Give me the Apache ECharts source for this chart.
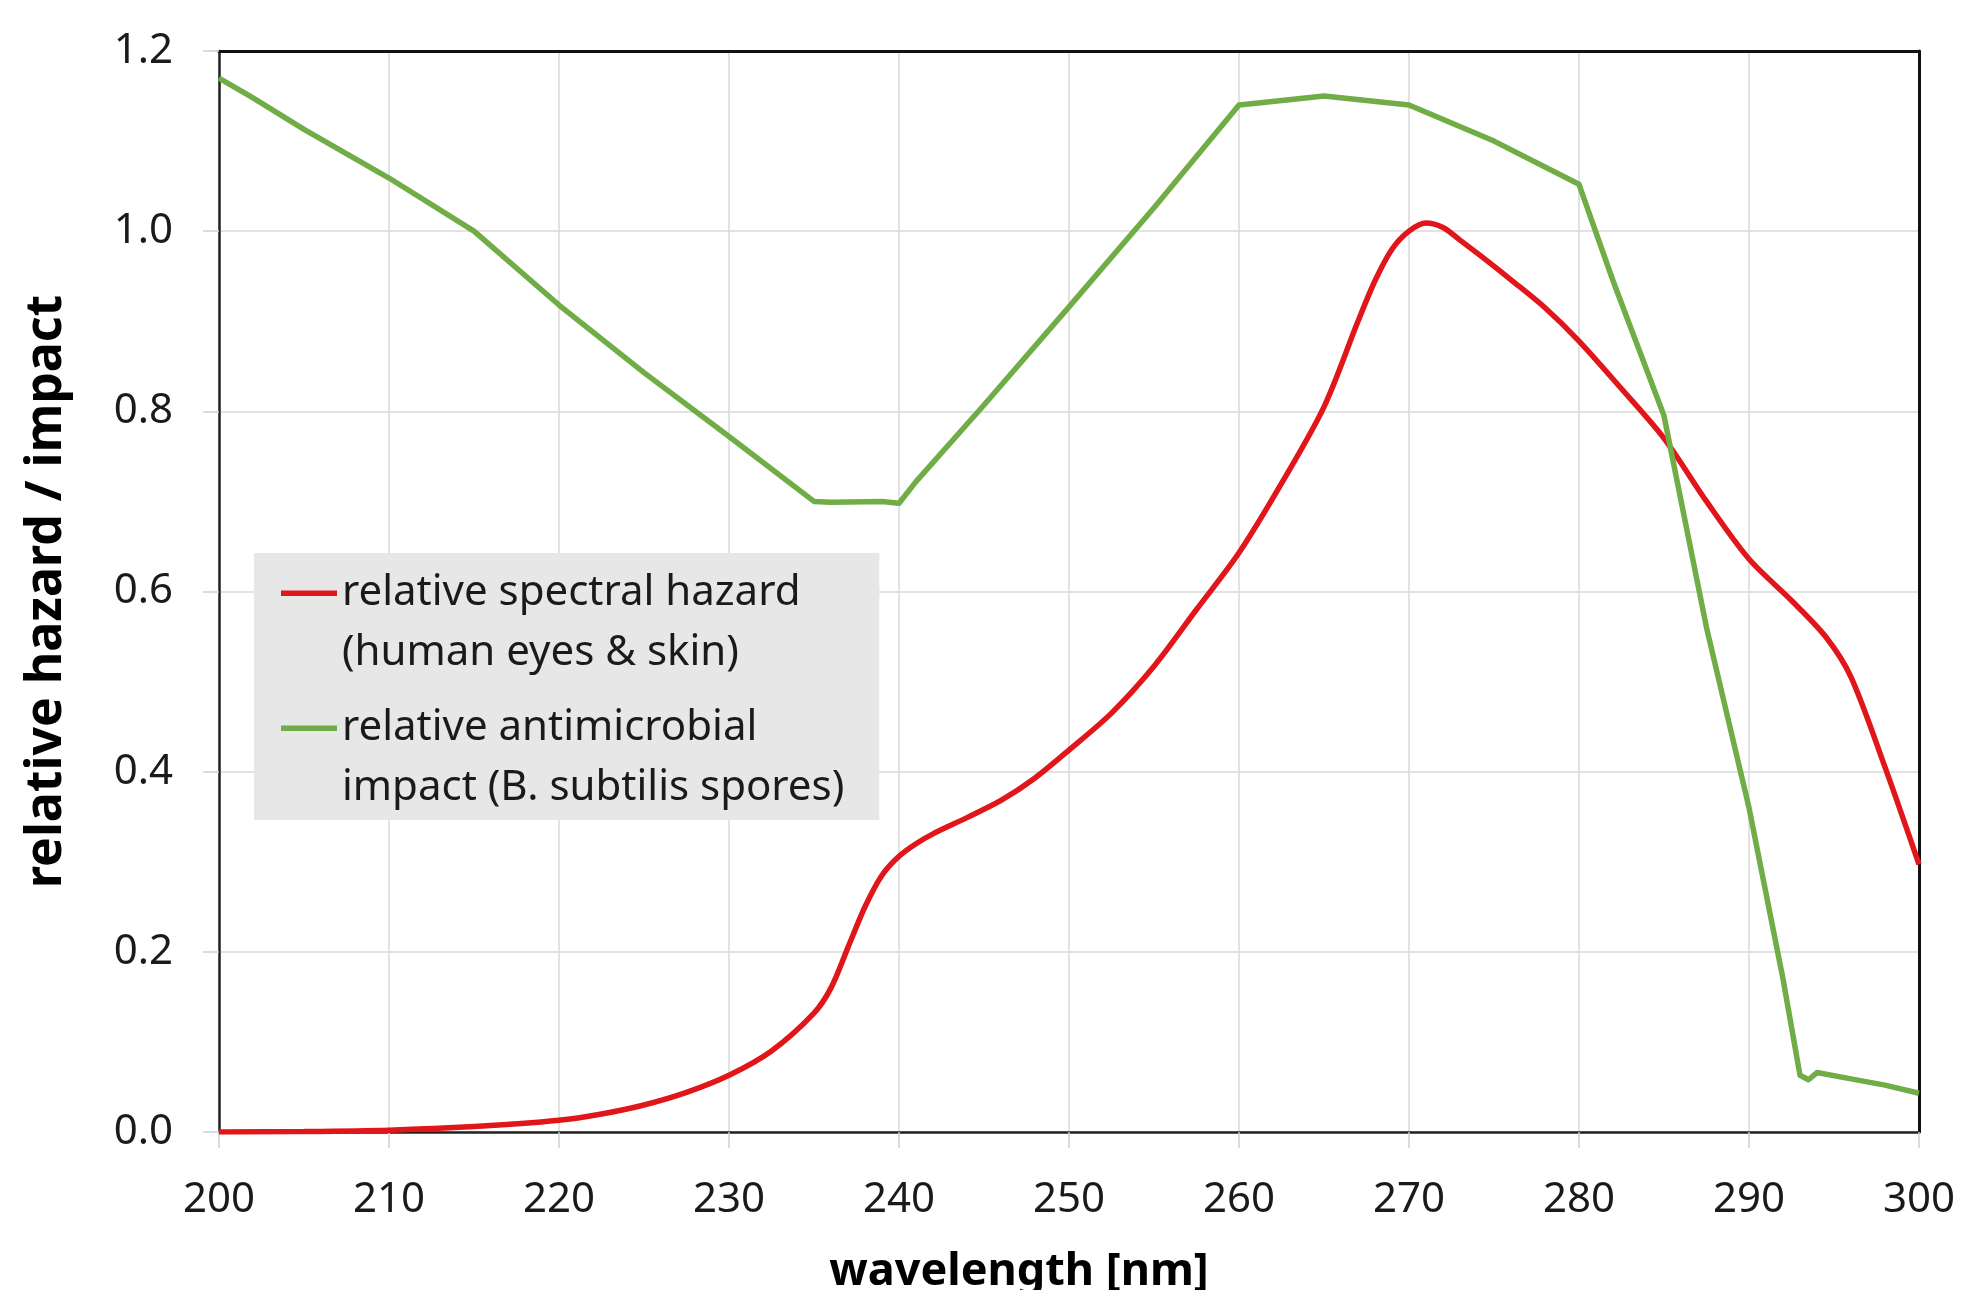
<!DOCTYPE html>
<html>
<head>
<meta charset="utf-8">
<script src="https://cdn.jsdelivr.net/npm/echarts@6.0.0/dist/echarts.min.js"></script>
<style>
  html, body { margin: 0; padding: 0; background: #fff; }
  #main { width: 1961px; height: 1290px; }
</style>
</head>
<body>
<div id="main"></div>
<script>
var dom = document.getElementById("main");
var chart = echarts.init(dom);

// wavelength [nm], relative value
var hazardX = [200, 205, 210, 215, 220, 222.5, 225, 227.5, 230, 232.5, 235, 236, 237, 238, 239, 240, 241, 242, 244, 246, 248, 250, 252.5, 255, 257.5, 260, 262.5, 265, 267, 268, 269, 270, 271, 272, 273, 274.6, 276, 278, 280, 282.5, 285, 287.5, 290, 292.5, 294.5, 296, 298, 300];
var hazardY = [0.0, 0.0005, 0.002, 0.006, 0.013, 0.02, 0.030, 0.044, 0.063, 0.09, 0.132, 0.16, 0.205, 0.25, 0.285, 0.306, 0.32, 0.331, 0.349, 0.368, 0.393, 0.424, 0.465, 0.517, 0.58, 0.643, 0.72, 0.805, 0.90, 0.945, 0.98, 1.0, 1.009, 1.004, 0.99, 0.967, 0.946, 0.915, 0.878, 0.825, 0.77, 0.70, 0.636, 0.59, 0.55, 0.505, 0.405, 0.297];

var impactX = [200, 202, 205, 210, 215, 220, 225, 230, 235, 236, 239, 240, 241, 245, 250, 255, 260, 261, 265, 270, 275, 280, 282, 283.5, 285, 287.5, 290, 292, 293, 293.5, 294, 296, 298, 300];
var impactY = [1.17, 1.148, 1.113, 1.059, 1.0, 0.918, 0.843, 0.772, 0.70, 0.699, 0.70, 0.698, 0.722, 0.807, 0.916, 1.026, 1.14, 1.142, 1.15, 1.14, 1.10, 1.052, 0.945, 0.87, 0.795, 0.56, 0.36, 0.17, 0.063, 0.058, 0.066, 0.059, 0.052, 0.043];

var seriesNames = ['hazard', 'impact'];
var legendLabels = {
    hazard: 'relative spectral hazard\n(human eyes & skin)',
    impact: 'relative antimicrobial\nimpact (B. subtilis spores)'
};

function pairs(xs, ys) {
    var out = [];
    for (let i = 0; i < xs.length; i++) {
        out.push([xs[i], ys[i]]);
    }
    return out;
}

var fontFamily = 'Noto Sans';

// frame lines on top and right, drawn as extra axes so they sit above the grid lines
var frameAxis = {
    show: true,
    axisLine: { show: true, onZero: false, lineStyle: { color: '#111', width: 3 } },
    axisTick: { show: false },
    axisLabel: { show: false },
    splitLine: { show: false }
};

var option = {
    backgroundColor: '#fff',
    textStyle: { fontFamily: fontFamily },
    grid: {
        left: 219,
        right: 42,
        top: 51,
        bottom: 158,
        outerBoundsMode: 'none'
    },
    legend: {
        orient: 'vertical',
        left: 254,
        top: 553,
        data: seriesNames,
        backgroundColor: '#e7e7e7',
        padding: [10, 35, 2, 27],
        itemGap: 15,
        itemWidth: 56,
        itemHeight: 65,
        symbolKeepAspect: false,
        icon: 'path://M0,0H56V5H0Z M0,60L0,60',
        itemStyle: { borderWidth: 0 },
        selectedMode: false,
        formatter: function (name) { return legendLabels[name]; },
        textStyle: {
            fontFamily: fontFamily,
            fontSize: 42,
            lineHeight: 60,
            color: '#1a1a1a'
        }
    },
    xAxis: [{
        type: 'value',
        min: 200,
        max: 300,
        interval: 10,
        name: 'wavelength [nm]',
        nameLocation: 'middle',
        nameGap: 118,
        nameTextStyle: {
            fontFamily: fontFamily,
            fontSize: 45,
            fontWeight: 'bold',
            color: '#000',
            padding: [0, 100, 0, 0]
        },
        axisLine: { show: true, lineStyle: { color: '#222', width: 2.5 } },
        axisTick: { show: true, length: 16, lineStyle: { color: '#d0d0d0', width: 1.5 } },
        axisLabel: { margin: 47, fontSize: 42, color: '#1a1a1a', fontFamily: fontFamily },
        splitLine: { show: true, lineStyle: { color: '#d9d9d9', width: 1.5 } }
    }, Object.assign({ type: 'value', position: 'top', min: 200, max: 300 }, frameAxis)],
    yAxis: [{
        type: 'value',
        min: 0,
        max: 1.2,
        interval: 0.2,
        name: 'relative hazard / impact',
        nameLocation: 'middle',
        nameGap: 147,
        nameTextStyle: {
            fontFamily: fontFamily,
            fontSize: 50,
            fontWeight: 'bold',
            color: '#000'
        },
        axisLine: { show: true, lineStyle: { color: '#222', width: 2.5 } },
        axisTick: { show: true, length: 16, lineStyle: { color: '#d0d0d0', width: 1.5 } },
        axisLabel: {
            margin: 46,
            fontSize: 42,
            color: '#1a1a1a',
            fontFamily: fontFamily,
            formatter: function (v) { return v.toFixed(1); }
        },
        splitLine: { show: true, lineStyle: { color: '#d9d9d9', width: 1.5 } }
    }, Object.assign({ type: 'value', position: 'right', min: 0, max: 1.2 }, frameAxis)],
    series: [
        {
            name: 'hazard',
            type: 'line',
            data: pairs(hazardX, hazardY),
            smooth: 0.3,
            showSymbol: false,
            symbol: 'none',
            color: '#e0161b',
            lineStyle: { color: '#e0161b', width: 5.5 }
        },
        {
            name: 'impact',
            type: 'line',
            data: pairs(impactX, impactY),
            smooth: false,
            showSymbol: false,
            symbol: 'none',
            color: '#70ad47',
            lineStyle: { color: '#70ad47', width: 5.5, join: 'round' }
        }
    ]
};

if (option && typeof option === "object") {
    chart.setOption(option, true);
}
</script>
</body>
</html>
